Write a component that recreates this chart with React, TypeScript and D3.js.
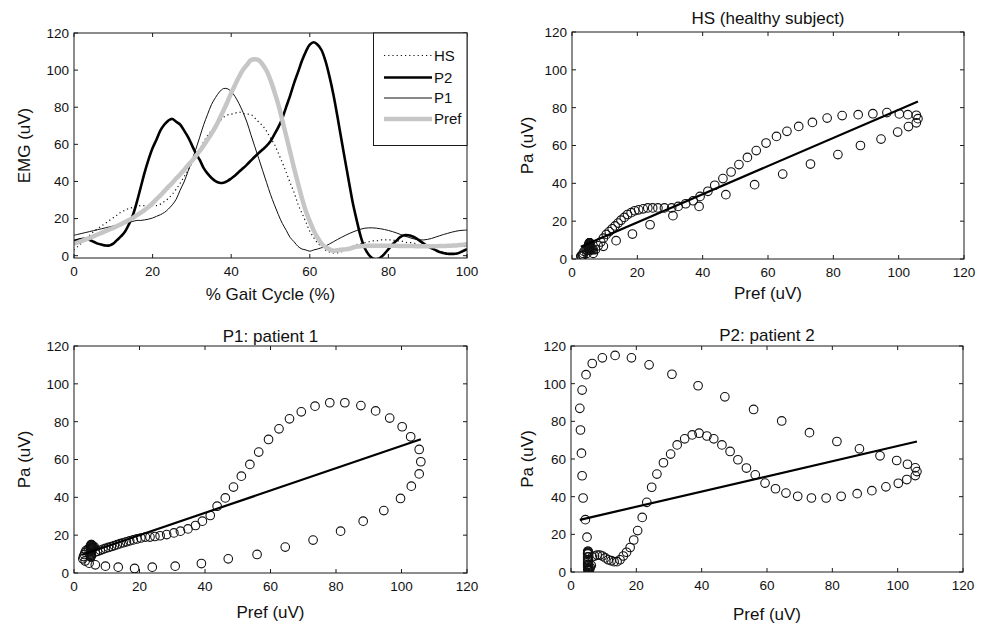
import React from 'react';
import * as d3 from 'd3';

// % of gait cycle (0..100, 1% sampling)
const gaitPct: number[] = d3.range(0, 101);

// Reference EMG (Pref)
const prefEMG: number[] = [
  6.5, 7.2, 8, 8.8, 9.6, 10.5, 11.4, 12.3, 13.2, 14.1,
  15, 16, 17, 18.1, 19.2, 20.4, 21.8, 23.2, 24.7, 26.3,
  28.3, 30.5, 32.5, 34.8, 37.1, 39.2, 41.6, 43.7, 46.2, 48.7,
  51.1, 53.7, 56.4, 59.4, 62.6, 65.8, 69.4, 73.6, 78.1, 82.7,
  87.6, 92.1, 96.4, 100.2, 102.8, 105.4, 105.9, 105.4, 103, 99.7,
  94.6, 88.3, 81.4, 73, 64.5, 55.9, 47.1, 38.9, 30.9, 23.9,
  18.5, 13.5, 9.6, 6.5, 4.6, 3.4, 2.7, 2.9, 3.2, 3.4,
  3.7, 4.4, 4.9, 5.1, 5.2, 5.3, 5.3, 5.4, 5.4, 5.4,
  5.4, 5.3, 5.3, 5.2, 5.2, 5.2, 5.2, 5.1, 5.1, 5.1,
  5.1, 5.1, 5.1, 5.2, 5.2, 5.3, 5.4, 5.5, 5.7, 5.9,
  6.2,
];

// Healthy subject (HS)
const hsEMG: number[] = [
  3, 5, 7, 9, 11, 13, 14.5, 16, 17.5, 19,
  20.5, 22, 23.5, 24.5, 25.5, 26, 26.5, 27, 27, 27,
  27, 27, 27.8, 29.2, 30.8, 33.1, 35.8, 39, 42.5, 46,
  49.9, 53.7, 57.3, 61.3, 64.8, 67.5, 70.1, 72.2, 74.5, 75.8,
  76.3, 76.8, 77.4, 76.7, 76.3, 76, 74.2, 72, 70, 67.1,
  63.4, 60, 55.2, 50.2, 44.9, 39.3, 34, 27.8, 22.9, 18.1,
  13.2, 9.7, 6.7, 4.9, 3, 2, 1.5, 1.5, 2, 3,
  4, 5, 6, 6.5, 7, 7.5, 8, 8, 8.5, 8.5,
  8.5, 8.5, 8, 8, 7.5, 7, 7, 6.5, 6, 6,
  5.5, 5.5, 5, 5, 5, 5, 5, 5, 5, 5,
  5,
];

// Patient 1 (P1)
const p1EMG: number[] = [
  11, 11.5, 12, 12.5, 13, 13.5, 14, 14.5, 15, 15.5,
  16, 16.5, 17, 17.5, 18, 18.5, 19, 19, 19.3, 19.7,
  20.3, 21.2, 22.1, 23.3, 25.1, 27.4, 30.4, 35.3, 39.7, 45.4,
  51.2, 57.4, 63.9, 70.6, 76.2, 81.5, 85.2, 88.2, 90, 90,
  88.5, 85.7, 81.9, 77.3, 72, 65.3, 58.8, 52.4, 45.9, 39.4,
  33, 27.4, 22.1, 17.4, 13.7, 9.8, 7.5, 5, 3.6, 3.1,
  2.4, 3.1, 3.6, 4.3, 5.2, 6.3, 7.5, 8.7, 9.8, 10.9,
  11.9, 12.8, 13.6, 14.3, 14.8, 15, 15, 14.8, 14.5, 14.1,
  13.6, 13, 12.3, 11.5, 10.7, 10, 9.3, 8.8, 8.5, 8.5,
  8.8, 9.3, 10, 10.7, 11.4, 12, 12.6, 13.1, 13.5, 13.7,
  13.8,
];

// Patient 2 (P2)
const p2EMG: number[] = [
  8, 8.5, 9, 9, 8.5, 7.5, 6.5, 6, 5.5, 5.5,
  6.5, 8.5, 10.5, 13, 17, 22, 29, 37, 45, 52,
  58, 62.6, 67.5, 70.7, 72.8, 73.7, 72.2, 70.7, 67.5, 64,
  59.6, 55.2, 51.6, 47.2, 44.2, 41.9, 40.2, 39.3, 39.3, 40.2,
  41.6, 43.2, 45.2, 47.1, 49.1, 51.2, 53.3, 55.3, 57.2, 59.2,
  61.7, 65.4, 69.3, 74, 80.2, 86.3, 93, 98.9, 105, 110,
  113.7, 115, 113.7, 110.7, 104.8, 96.6, 86.9, 75.4, 63.1, 51.1,
  39.3, 27.8, 18.5, 10, 4, 0.5, -1.5, -2, -1, 1,
  3.5, 6, 8, 10, 11, 11, 10.5, 9.5, 8, 6.5,
  5, 4, 3, 2, 1.5, 1, 1, 1, 1.5, 2.5,
  3.5,
];

// Linear fits Pa = slope * Pref + intercept
const fitHS: number[] = [0.744, 4.5];
const fitP1: number[] = [0.59, 8.2];
const fitP2: number[] = [0.403, 26.6];

const axisTicks: number[] = [0, 20, 40, 60, 80, 100, 120];
const gaitTicks: number[] = [0, 20, 40, 60, 80, 100];

const legendNames: string[] = ['HS', 'P2', 'P1', 'Pref'];

const FONT = 'Liberation Sans, Arial, Helvetica, sans-serif';
const GRAY = '#c6c6c6';

type Box = { l: number; r: number; t: number; b: number };

function Frame({ box, x, y, xticks, yticks }: any) {
  const tl = 4;
  return (
    <g>
      <rect x={box.l} y={box.t} width={box.r - box.l} height={box.b - box.t} fill="none" stroke="#1a1a1a" strokeWidth={1} />
      {xticks.map((v: number) => (
        <g key={'x' + v}>
          <line x1={x(v)} x2={x(v)} y1={box.b} y2={box.b - tl} stroke="#1a1a1a" />
          <line x1={x(v)} x2={x(v)} y1={box.t} y2={box.t + tl} stroke="#1a1a1a" />
          <text x={x(v)} y={box.b + 18} textAnchor="middle" fontSize={13.5} fontFamily={FONT} fill="#111">{v}</text>
        </g>
      ))}
      {yticks.map((v: number) => (
        <g key={'y' + v}>
          <line x1={box.l} x2={box.l + tl} y1={y(v)} y2={y(v)} stroke="#1a1a1a" />
          <line x1={box.r} x2={box.r - tl} y1={y(v)} y2={y(v)} stroke="#1a1a1a" />
          <text x={box.l - 5} y={y(v)} dy="0.36em" textAnchor="end" fontSize={13.5} fontFamily={FONT} fill="#111">{v}</text>
        </g>
      ))}
    </g>
  );
}

function ScatterPanel({ box, id, title, titleY, pa, fit, ylabX, xlabY }: any) {
  const x = d3.scaleLinear().domain([0, 120]).range([box.l, box.r]);
  const y = d3.scaleLinear().domain([0, 120]).range([box.b, box.t]);
  const pts = prefEMG.map((p, i) => [p, pa[i]]);
  const xMin = d3.min(prefEMG) as number;
  const xMax = d3.max(prefEMG) as number;
  const fitPts: [number, number][] = [xMin, xMax].map((v) => [v, fit[0] * v + fit[1]]);
  const line = d3.line<[number, number]>().x((d) => x(d[0])).y((d) => y(d[1]));
  const cx = (box.l + box.r) / 2;
  const cy = (box.t + box.b) / 2;
  return (
    <g>
      <defs>
        <clipPath id={id}>
          <rect x={box.l} y={box.t} width={box.r - box.l} height={box.b - box.t} />
        </clipPath>
      </defs>
      <Frame box={box} x={x} y={y} xticks={axisTicks} yticks={axisTicks} />
      <g clipPath={`url(#${id})`}>
        {pts.map((d, i) => (
          <circle key={i} cx={x(d[0])} cy={y(d[1])} r={4.3} fill="none" stroke="#111" strokeWidth={1.1} />
        ))}
        <path d={line(fitPts) as string} fill="none" stroke="#000" strokeWidth={2.2} />
      </g>
      <text x={cx} y={titleY} textAnchor="middle" fontSize={17} fontFamily={FONT} fill="#111">{title}</text>
      <text x={cx} y={xlabY} textAnchor="middle" fontSize={17} fontFamily={FONT} fill="#111">Pref (uV)</text>
      <text transform={`translate(${ylabX},${cy}) rotate(-90)`} textAnchor="middle" fontSize={17} fontFamily={FONT} fill="#111">Pa (uV)</text>
    </g>
  );
}

function LinePanel({ box }: { box: Box }) {
  const x = d3.scaleLinear().domain([0, 100]).range([box.l, box.r]);
  const y = d3.scaleLinear().domain([-1.25, 120]).range([box.b, box.t]);
  const mk = (vals: number[]) =>
    d3.line<number>().x((_, i) => x(gaitPct[i])).y((d) => y(d)).curve(d3.curveCatmullRom.alpha(0.5))(vals) as string;
  const cy = (box.t + box.b) / 2;
  const cx = (box.l + box.r) / 2;
  const lg = { l: 373.5, r: box.r, t: box.t, b: 145.5 };
  const legendY = [55.5, 77.5, 98, 119];
  const styles: any = {
    HS: { stroke: '#111', strokeWidth: 1.2, strokeDasharray: '1.2 3' },
    P2: { stroke: '#000', strokeWidth: 2.6 },
    P1: { stroke: '#111', strokeWidth: 1 },
    Pref: { stroke: GRAY, strokeWidth: 4.5 },
  };
  return (
    <g>
      <defs>
        <clipPath id="clipTL">
          <rect x={box.l} y={box.t} width={box.r - box.l} height={box.b - box.t} />
        </clipPath>
      </defs>
      <g clipPath="url(#clipTL)">
        <path d={mk(hsEMG)} fill="none" {...styles.HS} />
        <path d={mk(p1EMG)} fill="none" {...styles.P1} />
        <path d={mk(p2EMG)} fill="none" {...styles.P2} strokeLinejoin="round" />
        <path d={mk(prefEMG)} fill="none" {...styles.Pref} strokeLinejoin="round" />
      </g>
      <Frame box={box} x={x} y={y} xticks={gaitTicks} yticks={axisTicks} />
      <rect x={lg.l} y={lg.t} width={lg.r - lg.l} height={lg.b - lg.t} fill="#fff" stroke="#1a1a1a" strokeWidth={1} />
      {legendNames.map((n, i) => (
        <g key={n}>
          <line x1={384} x2={432} y1={legendY[i]} y2={legendY[i]} {...styles[n]} />
          <text x={434} y={legendY[i]} dy="0.36em" fontSize={15} fontFamily={FONT} fill="#111">{n}</text>
        </g>
      ))}
      <text x={cx} y={300} textAnchor="middle" fontSize={17} fontFamily={FONT} fill="#111">% Gait Cycle (%)</text>
      <text transform={`translate(30,${cy}) rotate(-90)`} textAnchor="middle" fontSize={17} fontFamily={FONT} fill="#111">EMG (uV)</text>
    </g>
  );
}

export default function App() {
  return (
    <svg width={986} height={626} style={{ position: 'absolute', left: 0, top: 0, background: '#fff' }}>
      <rect x={0} y={0} width={986} height={626} fill="#fff" />
      <LinePanel box={{ l: 74, r: 467, t: 33, b: 258 }} />
      <ScatterPanel id="clipHS" box={{ l: 572, r: 964, t: 32, b: 259 }} title="HS (healthy subject)" titleY={24} pa={hsEMG} fit={fitHS} ylabX={533} xlabY={299} />
      <ScatterPanel id="clipP1" box={{ l: 74, r: 467, t: 346, b: 573 }} title="P1: patient 1" titleY={342} pa={p1EMG} fit={fitP1} ylabX={30} xlabY={618} />
      <ScatterPanel id="clipP2" box={{ l: 571, r: 963, t: 346, b: 572 }} title="P2: patient 2" titleY={341} pa={p2EMG} fit={fitP2} ylabX={533} xlabY={620} />
    </svg>
  );
}
